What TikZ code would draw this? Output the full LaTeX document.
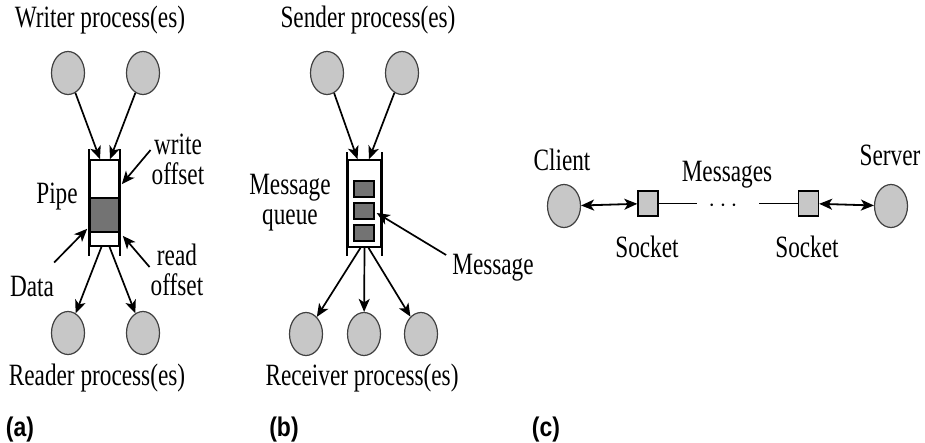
\documentclass[tikz,border=0pt]{standalone}
\usepackage{fontspec}
\setmainfont{Liberation Serif}[FakeStretch=0.75]
\newfontfamily\tagfont{Liberation Sans}[FakeStretch=0.85]
\usetikzlibrary{shapes.geometric}
\usetikzlibrary{arrows.meta}
\usetikzlibrary{calc}
\usetikzlibrary{positioning}

\begin{document}
\begin{tikzpicture}
    [
    x=1pt, y=-1pt,
    proc/.style={ellipse,draw=black!75,fill=black!22,line width=1.2pt,minimum width=33pt,minimum height=43pt,inner sep=0pt},
    tube/.style={rectangle,draw,line width=1.6pt,inner sep=0pt},
    msgbox/.style={rectangle,draw,fill=black!55,line width=1.4pt,inner sep=0pt,minimum width=20pt,minimum height=16pt},
    sock/.style={rectangle,draw,fill=black!22,line width=1.4pt,inner sep=0pt,minimum width=20pt,minimum height=25pt},
    lbl/.style={inner sep=1pt,align=center,font=\fontsize{31}{30}\selectfont},
    tag/.style={inner sep=0pt,font=\tagfont\bfseries\fontsize{27}{27}\selectfont},
    arr/.style={-{Stealth[length=13pt,width=11pt,inset=3.5pt]},line width=1.7pt},
    darr/.style={{Stealth[length=13pt,width=11pt,inset=3.5pt]}-{Stealth[length=13pt,width=11pt,inset=3.5pt]},line width=1.8pt},
    ]
    \useasboundingbox (0,0) rectangle (925,443);

    % (a) pipe
    \node (wtitle) at (100,20) [lbl] {Writer process(es)};
    \node (w1) at (68,73) [proc] {};
    \node (w2) at (143,73) [proc] {};
    \node (dat) at (104.5,215) [tube, fill=black!55, minimum width=29pt, minimum height=34pt] {};
    \node (pipe) at (104.5,203) [tube, minimum width=29pt, minimum height=86pt] {};
    \draw [line width=1.6pt] ($(pipe.north west)+(0,-10)$) -- ($(pipe.south west)+(0,9)$);
    \draw [line width=1.6pt] ($(pipe.north east)+(0,-10)$) -- ($(pipe.south east)+(0,9)$);
    \draw [arr] (w1) to ($(pipe.north)+(-4.5,0)$);
    \draw [arr] (w2) to ($(pipe.north)+(5.5,0)$);

    \node (pipelbl) at (57,197) [lbl] {Pipe};
    \node (wofs) at (178,159) [lbl] {write\\offset};
    \node (rofs) at (177,270) [lbl] {read\\offset};
    \node (datalbl) at (32,287) [lbl] {Data};
    \draw [arr] ($(wofs.west)+(0,-9)$) to ($(pipe.north east)+(2,25)$);
    \draw [arr] ($(rofs.west)+(0,-3)$) to ($(dat.south east)+(3,3)$);
    \draw [arr] ($(datalbl.north east)+(-1,-13)$) to ($(dat.south west)+(-2,-4)$);

    \node (r1) at (68,333) [proc] {};
    \node (r2) at (143,333) [proc] {};
    \draw [arr] ($(pipe.south)+(-3,0)$) to (r1);
    \draw [arr] ($(pipe.south)+(5,0)$) to (r2);
    \node (rtitle) at (97,378) [lbl] {Reader process(es)};
    \node (taga) at (20,430) [tag] {(a)};

    % (b) message queue
    \node (stitle) at (368,20) [lbl] {Sender process(es)};
    \node (s1) at (327,73) [proc] {};
    \node (s2) at (402,73) [proc] {};
    \node (queue) at (364.5,203.5) [tube, minimum width=33pt, minimum height=87pt] {};
    \draw [line width=1.6pt] ($(queue.north west)+(0,-7)$) -- ($(queue.south west)+(0,8)$);
    \draw [line width=1.6pt] ($(queue.north east)+(0,-7)$) -- ($(queue.south east)+(0,8)$);
    \node (m1) at (364,189) [msgbox] {};
    \node (m2) at (364,211) [msgbox] {};
    \node (m3) at (364,233) [msgbox] {};
    \draw [arr] (s1) to ($(queue.north)+(-7,0)$);
    \draw [arr] (s2) to ($(queue.north)+(4.5,0)$);

    \node (mqlbl) at (290,203) [lbl] {Message\\queue};
    \node (msglbl) at (493,268) [lbl] {Message};
    \draw [arr] ($(msglbl.west)+(-5,-13)$) to ($(m2.east)+(2,2)$);

    \node (v1) at (306,334) [proc] {};
    \node (v2) at (364,334) [proc] {};
    \node (v3) at (421,334) [proc] {};
    \draw [arr] ($(queue.south)+(-4,0)$) to (v1);
    \draw [arr] (queue.south) to (v2);
    \draw [arr] ($(queue.south)+(4,0)$) to (v3);
    \node (vtitle) at (362,378) [lbl] {Receiver process(es)};
    \node (tagb) at (284,430) [tag] {(b)};

    % (c) sockets
    \node (cl) at (564,206) [proc] {};
    \node (sv) at (891,206) [proc] {};
    \node (sock1) at (648,203.5) [sock] {};
    \node (sock2) at (808.5,203.5) [sock] {};
    \node (dots) at (723,206) [lbl, inner sep=0pt] {$\cdots$};
    \coordinate (g1) at (697,203.5);
    \coordinate (g2) at (759,203.5);
    \draw [darr] (cl) to (sock1);
    \draw [darr] (sock2) to (sv);
    \draw [line width=1.4pt] (sock1) to (g1);
    \draw [line width=1.4pt] (g2) to (sock2);

    \node (cllbl) at (562,160) [lbl] {Client};
    \node (svlbl) at (890,155) [lbl] {Server};
    \node (msgslbl) at (727,175) [lbl] {Messages};
    \node (sk1lbl) at (647,247) [lbl] {Socket};
    \node (sk2lbl) at (807,247) [lbl] {Socket};
    \node (tagc) at (546,430) [tag] {(c)};
  \end{tikzpicture}
\end{document}
